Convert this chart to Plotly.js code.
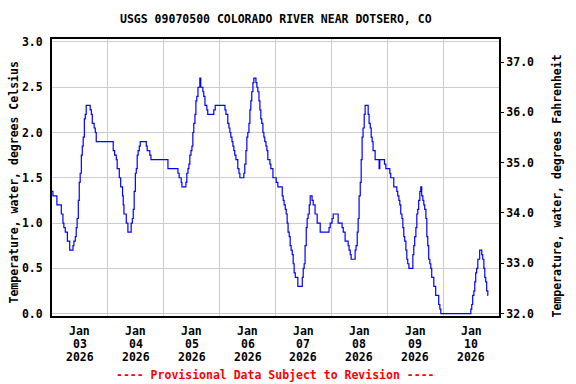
<!DOCTYPE html>
<html>
<head>
<meta charset="utf-8">
<script src="https://cdn.plot.ly/plotly-3.0.1.min.js"></script>
<style>html,body{margin:0;padding:0;background:#fff;}#chart{width:576px;height:384px;}</style>
</head>
<body>
<div id="chart"></div>
<script>
// Readings: hours after 2026-01-03 00:00 and water temperature (deg C)
const startDate = '2026-01-03T00:00:00Z';
const hoursFromStart = [
  0.0,0.4,2.1,4.0,4.7,5.1,5.7,6.6,7.6,9.0,9.4,10.0,10.4,10.8,11.3,11.7,12.1,12.6,13.0,13.4,13.9,14.3,14.7,
  16.4,16.9,17.3,18.1,18.6,19.0,26.3,26.9,27.6,28.0,28.9,29.5,30.3,30.6,30.9,31.9,32.6,34.0,34.5,34.9,35.3,
  35.8,36.2,36.6,37.0,37.5,37.9,40.5,40.9,42.0,42.5,
  49.8,54.1,54.6,55.5,55.8,57.5,57.9,58.4,58.8,59.2,59.7,60.1,60.5,60.9,61.4,61.8,62.2,62.7,63.5,63.9,
  64.8,65.2,65.7,66.5,66.9,69.5,70.1,74.3,74.7,75.5,76.0,76.4,76.8,77.3,77.7,78.1,78.5,79.0,79.8,80.3,
  80.7,82.4,82.8,83.3,83.7,84.1,84.6,85.0,85.4,85.8,86.3,86.7,87.6,88.0,88.4,88.9,89.3,89.7,90.1,90.6,
  91.0,91.4,91.9,92.3,92.7,93.6,94.0,94.9,
  96.3,97.0,98.9,99.3,99.7,100.2,100.6,101.0,101.4,101.9,102.3,102.7,103.2,103.6,104.0,104.5,105.6,
  107.5,107.9,108.3,108.7,109.2,109.6,110.0,110.5,110.9,111.7,112.2,113.0,113.9,115.2,119.0,119.5,
  120.3,120.8,122.9,124.6,125.1,125.9,127.2,127.6,128.1,128.5,130.2,130.6,131.1,131.5,131.9,132.4,
  132.8,133.2,133.6,134.1,134.5,135.8,136.2,136.7,137.1,137.5,137.9,138.8,140.5,140.8,142.8,
  143.4,145.1,145.5,146.8,148.1,148.5,149.0,149.4,149.8,150.3,150.7,151.1,151.5,152.0,152.4,152.8,
  153.3,155.0,155.4,155.8,156.3,156.7,157.1,157.5,158.0,158.4,158.8,159.3,159.7,160.1,160.6,161.0,
  161.4,161.8,162.3,162.7,163.1,164.0,164.8,166.1,166.6,167.0,179.9,180.3,180.7,181.2,181.6,182.0,
  182.4,182.9,183.7,184.6,185.0,185.5,185.9,186.3,186.7,187.2,187.3
];
const tempC = [
  1.35,1.3,1.2,1.1,1.0,0.95,0.9,0.8,0.7,0.75,0.8,0.85,0.95,1.05,1.25,1.45,1.55,1.75,1.85,1.95,2.15,2.2,2.3,
  2.25,2.2,2.1,2.05,2.0,1.9,1.8,1.75,1.7,1.6,1.5,1.4,1.3,1.2,1.1,1.0,0.9,1.0,1.05,1.15,1.35,
  1.55,1.6,1.75,1.8,1.85,1.9,1.85,1.8,1.75,1.7,
  1.6,1.55,1.5,1.45,1.4,1.45,1.55,1.6,1.65,1.75,1.8,1.85,2.0,2.1,2.2,2.35,2.4,2.5,2.6,2.5,
  2.45,2.4,2.3,2.25,2.2,2.25,2.3,2.25,2.2,2.1,2.05,2.0,1.95,1.9,1.85,1.8,1.75,1.7,1.6,1.55,
  1.5,1.55,1.65,1.8,1.95,2.0,2.1,2.25,2.35,2.45,2.55,2.6,2.55,2.5,2.45,2.35,2.25,2.15,2.1,2.0,
  1.95,1.9,1.85,1.8,1.7,1.65,1.6,1.5,
  1.45,1.4,1.3,1.25,1.2,1.15,1.1,1.0,0.9,0.85,0.75,0.7,0.65,0.55,0.45,0.4,0.3,
  0.4,0.5,0.55,0.75,0.95,1.05,1.1,1.2,1.3,1.25,1.2,1.1,1.0,0.9,0.95,1.0,
  1.05,1.1,1.0,0.95,0.9,0.8,0.75,0.7,0.65,0.6,0.7,0.75,0.9,1.05,1.3,1.45,
  1.7,1.95,2.05,2.2,2.3,2.2,2.1,2.05,1.95,1.9,1.8,1.7,1.6,1.7,1.65,
  1.6,1.55,1.5,1.4,1.35,1.3,1.25,1.2,1.1,1.05,0.95,0.85,0.8,0.7,0.6,0.55,
  0.5,0.65,0.75,0.85,0.95,1.1,1.15,1.25,1.35,1.4,1.3,1.25,1.2,1.15,1.05,0.85,
  0.75,0.6,0.55,0.5,0.4,0.3,0.2,0.1,0.05,0.0,0.05,0.1,0.2,0.25,0.35,0.45,
  0.5,0.6,0.7,0.65,0.6,0.5,0.4,0.35,0.25,0.2,0.2
];
// X tick labels (placed at noon of each day)
const labelDays = ['2026-01-03','2026-01-04','2026-01-05','2026-01-06','2026-01-07','2026-01-08','2026-01-09','2026-01-10'];
const labelMonth = ['Jan','Jan','Jan','Jan','Jan','Jan','Jan','Jan'];
const labelDay = ['03','04','05','06','07','08','09','10'];
const labelYear = ['2026','2026','2026','2026','2026','2026','2026','2026'];

const xRange = ['2026-01-03 00:00', '2026-01-11 00:00'];
const yRangeC = [-0.027, 3.033];
const titleText = 'USGS 09070500 COLORADO RIVER NEAR DOTSERO, CO';
const leftTitle = 'Temperature, water, degrees Celsius';
const rightTitle = 'Temperature, water, degrees Fahrenheit';
const footText = '---- Provisional Data Subject to Revision ----';

function fmt(ms){
  const d = new Date(ms);
  const p = n => String(n).padStart(2,'0');
  return d.getUTCFullYear()+'-'+p(d.getUTCMonth()+1)+'-'+p(d.getUTCDate())+' '+p(d.getUTCHours())+':'+p(d.getUTCMinutes())+':'+p(d.getUTCSeconds());
}
const t0 = Date.parse(startDate);
const times = hoursFromStart.map(h => fmt(t0 + Math.round(h*3600000)));
const tempF = tempC.map(c => 32 + 1.8*c);

const FONT = {family: 'DejaVu Sans Mono', size: 11.5, color: '#000', weight: 'bold'};

const traces = [
  {x: times, y: tempC, type: 'scatter', mode: 'lines', line: {color: '#0000ff', width: 1.2, shape: 'hv'}, hoverinfo: 'skip'},
  {x: times, y: tempF, type: 'scatter', mode: 'lines', yaxis: 'y2', line: {color: 'rgba(0,0,0,0)', width: 0, shape: 'hv'}, hoverinfo: 'skip'}
];

const annotations = [
  {text: titleText, xref: 'paper', yref: 'paper', x: 0.5, y: 1, yshift: 20, xanchor: 'center', yanchor: 'middle', showarrow: false, font: FONT},
  {text: leftTitle, xref: 'paper', yref: 'paper', x: 0, xshift: -39, y: 0.5, yshift: -5, xanchor: 'center', yanchor: 'middle', textangle: -90, showarrow: false, font: FONT},
  {text: rightTitle, xref: 'paper', yref: 'paper', x: 1, xshift: 57, y: 0.5, yshift: -9, xanchor: 'center', yanchor: 'middle', textangle: -90, showarrow: false, font: FONT},
  {text: footText, xref: 'paper', yref: 'paper', x: 0.5, y: 0, yshift: -59, xanchor: 'center', yanchor: 'middle', showarrow: false, font: Object.assign({}, FONT, {color: '#ff0000'})}
];
const rows = [[labelMonth, -14.5], [labelDay, -27.5], [labelYear, -40.5]];
labelDays.forEach((d, i) => {
  rows.forEach(([arr, shift]) => {
    annotations.push({text: arr[i], xref: 'x', yref: 'paper', x: d + ' 12:00', y: 0, yshift: shift,
      xanchor: 'center', yanchor: 'middle', showarrow: false, font: FONT});
  });
});

const layout = {
  width: 576, height: 384,
  margin: {l: 52, r: 77, t: 39, b: 68},
  paper_bgcolor: '#fff', plot_bgcolor: '#fff',
  showlegend: false,
  font: FONT,
  xaxis: {
    type: 'date', range: xRange, tick0: '2026-01-03', dtick: 86400000,
    showticklabels: false,
    showgrid: true, gridcolor: '#cccccc', gridwidth: 1,
    showline: true, linecolor: '#000', linewidth: 2, mirror: true,
    ticks: '', zeroline: false, fixedrange: true
  },
  yaxis: {
    range: yRangeC, tick0: 0, dtick: 0.5, tickformat: '.1f',
    showgrid: true, gridcolor: '#cccccc', gridwidth: 1, zeroline: false,
    showline: true, linecolor: '#000', linewidth: 2, mirror: true,
    ticks: 'outside', ticklen: 5, tickcolor: 'rgba(0,0,0,0)',
    tickfont: FONT, fixedrange: true
  },
  yaxis2: {
    overlaying: 'y', side: 'right',
    range: yRangeC.map(c => 32 + 1.8*c), tick0: 32, dtick: 1, tickformat: '.1f',
    showgrid: false, zeroline: false, showline: false,
    ticks: 'outside', ticklen: 4, tickwidth: 1, tickcolor: '#000',
    tickfont: FONT, fixedrange: true
  },
  annotations: annotations
};

Plotly.newPlot('chart', traces, layout, {displayModeBar: false, staticPlot: true});
</script>
</body>
</html>
